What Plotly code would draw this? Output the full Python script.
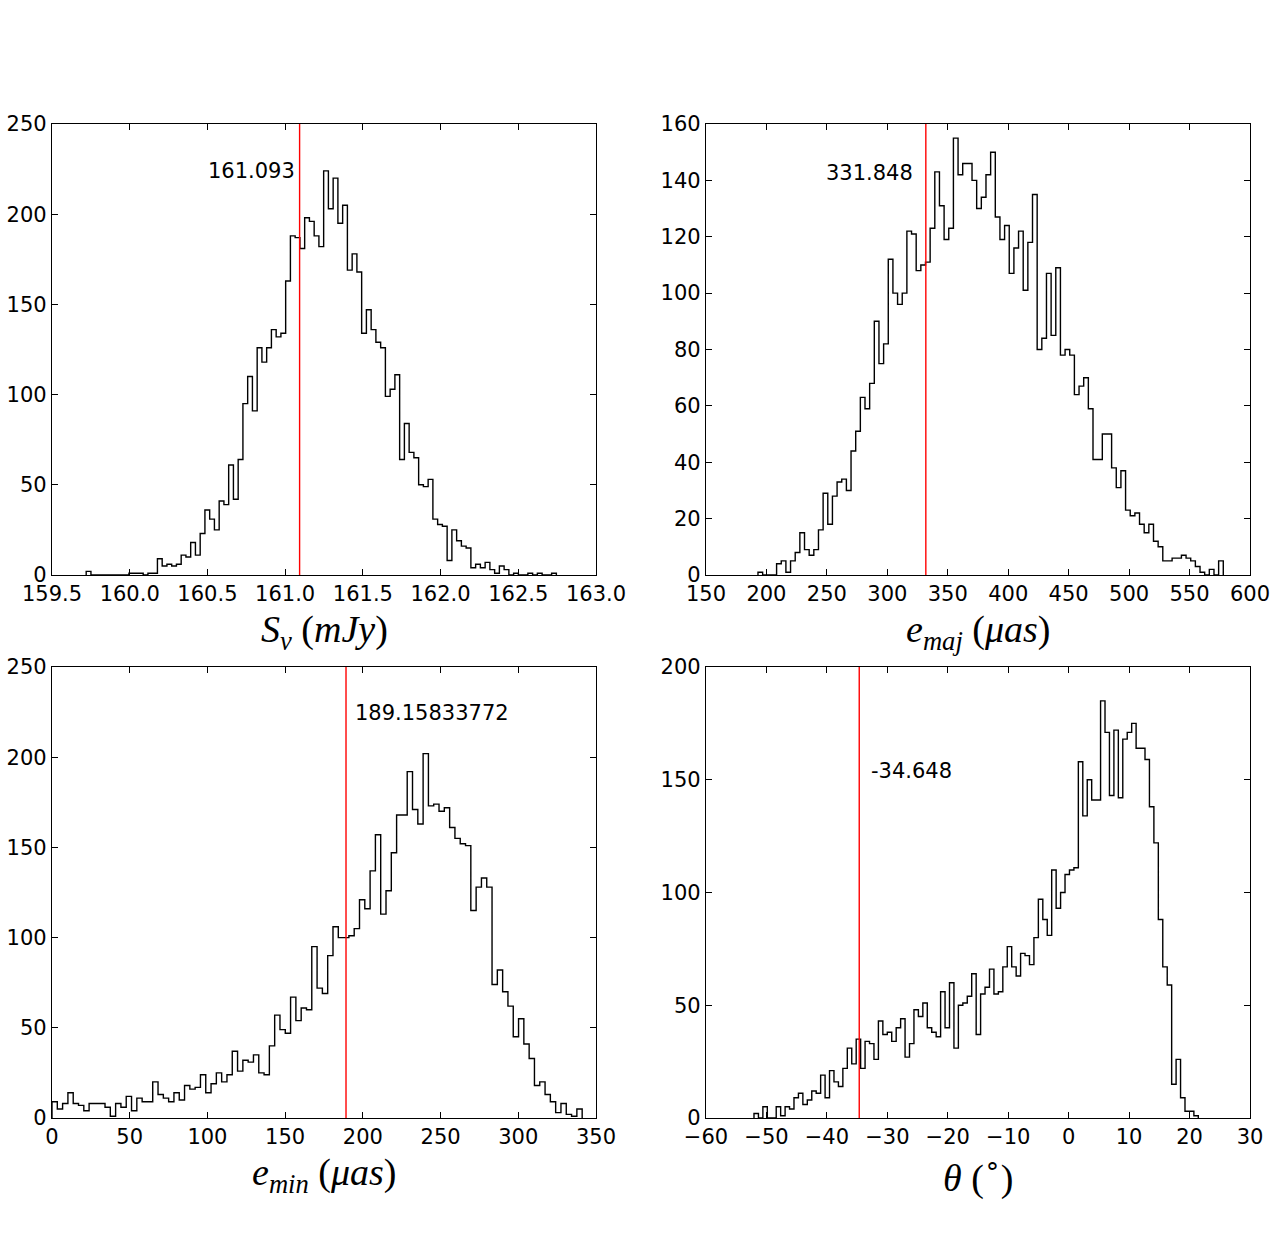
import numpy as np
import plotly.graph_objects as go

# histogram counts (step style)
flux_counts = [2, 0, 0, 0, 0, 0, 0, 0, 0, 1, 1, 1, 0, 1, 1, 9, 5, 6, 5, 6,
               11, 10, 18, 11, 23, 36, 31, 25, 41, 39, 61, 42, 64, 95, 110, 91, 126, 118, 126, 136,
               132, 134, 163, 188, 187, 181, 198, 196, 188, 182, 224, 203, 220, 195, 205, 169, 178, 168, 134, 147,
               136, 129, 126, 99, 103, 111, 64, 84, 68, 65, 50, 49, 53, 31, 28, 27, 8, 25, 19, 16,
               15, 4, 6, 4, 7, 3, 1, 5, 3, 0, 1, 0, 0, 1, 0, 1, 0, 0, 1]
flux_range = [159.72, 162.745]
flux_best = 161.093

emaj_counts = [1, 0, 0, 0, 4, 5, 1, 5, 8, 15, 9, 7, 9, 16, 29, 18, 28, 33, 34, 30,
               44, 51, 63, 59, 68, 90, 75, 82, 112, 100, 96, 100, 122, 121, 108, 110, 111, 123, 143, 131,
               119, 123, 155, 142, 146, 146, 140, 130, 134, 142, 150, 127, 119, 124, 107, 116, 122, 101, 118, 135,
               80, 84, 107, 85, 109, 78, 80, 78, 64, 67, 70, 59, 41, 41, 50, 50, 38, 31, 37, 23,
               21, 22, 18, 15, 18, 12, 10, 5, 5, 6, 6, 7, 6, 5, 3, 1, 0, 2, 0, 5]
emaj_range = [193.0, 577.9]
emaj_best = 331.848

emin_counts = [9, 5, 8, 14, 8, 7, 4, 8, 8, 8, 6, 1, 8, 6, 12, 4, 11, 9, 9, 20,
               13, 11, 9, 14, 10, 18, 16, 17, 24, 14, 19, 25, 20, 24, 37, 26, 32, 31, 35, 25,
               24, 40, 57, 49, 47, 67, 54, 61, 60, 95, 72, 69, 90, 106, 100, 100, 101, 105, 121, 116,
               137, 157, 113, 126, 147, 168, 168, 192, 171, 163, 202, 173, 174, 170, 172, 161, 155, 152, 151, 115,
               128, 133, 128, 74, 82, 70, 62, 45, 55, 41, 33, 18, 20, 13, 9, 3, 8, 2, 1, 5]
emin_range = [0.0, 341.1]
emin_best = 189.15833772

theta_counts = [2, 0, 5, 0, 0, 5, 1, 5, 4, 9, 11, 6, 8, 12, 11, 19, 9, 21, 16, 14,
                22, 31, 24, 35, 22, 34, 33, 26, 43, 37, 38, 34, 40, 44, 27, 33, 48, 45, 51, 40,
                38, 36, 56, 40, 60, 31, 50, 51, 54, 64, 37, 55, 58, 66, 55, 56, 67, 76, 67, 63,
                73, 72, 68, 80, 97, 88, 81, 110, 93, 100, 108, 110, 111, 158, 134, 150, 141, 141, 185, 171,
                143, 172, 142, 168, 171, 175, 164, 164, 159, 138, 122, 88, 67, 59, 15, 26, 9, 3, 3, 1]
theta_range = [-52.06, 21.45]
theta_best = -34.648

W, H = 1274, 1242

#panel settings: counts, range, best value, label, axis ranges, ticks
panels = [
    dict(counts=flux_counts, rng=flux_range, best=flux_best, best_txt="161.093",
         label="<i>S</i><sub><i>ν</i></sub> (<i>mJy</i>)",
         xr=[159.5, 163.0], dx=0.5, xfmt=".1f", yr=[0, 250], dy=50,
         txt_y=224, anchor="right", shift=-3),
    dict(counts=emaj_counts, rng=emaj_range, best=emaj_best, best_txt="331.848",
         label="<i>e</i><sub><i>maj</i></sub> (<i>μas</i>)",
         xr=[150, 600], dx=50, xfmt="d", yr=[0, 160], dy=20,
         txt_y=142.6, anchor="right", shift=-11),
    dict(counts=emin_counts, rng=emin_range, best=emin_best, best_txt="189.15833772",
         label="<i>e</i><sub><i>min</i></sub> (<i>μas</i>)",
         xr=[0, 350], dx=50, xfmt="d", yr=[0, 250], dy=50,
         txt_y=224.5, anchor="left", shift=7),
    dict(counts=theta_counts, rng=theta_range, best=theta_best, best_txt="-34.648",
         label="<i>θ</i> (<sup>∘</sup>)",
         xr=[-60, 30], dx=10, xfmt="d", yr=[0, 200], dy=50,
         txt_y=154, anchor="left", shift=10),
]

#pixel boxes of each plot area in the window (left, right, top, bottom)
boxes = [(52, 596, 124, 575), (706, 1250, 124, 575),
         (52, 596, 667, 1118), (706, 1250, 667, 1118)]

fig = go.Figure()
tick_font = dict(family="DejaVu Sans", size=21, color="black")

for i, (p, box) in enumerate(zip(panels, boxes)):
    n = i + 1
    xa = "x" if n == 1 else "x%d" % n
    ya = "y" if n == 1 else "y%d" % n
    l, r, t, b = box

    #step outline of the histogram
    edges = np.linspace(p["rng"][0], p["rng"][1], len(p["counts"]) + 1)
    xs = [edges[0]] + list(edges[:-1]) + [edges[-1]]
    ys = [0] + list(p["counts"]) + [0]
    fig.add_trace(go.Scatter(x=xs, y=ys, mode="lines", line=dict(color="black", width=1.4, shape="hv"),
                             xaxis=xa, yaxis=ya, showlegend=False, hoverinfo="skip"))

    #red line at best value
    fig.add_trace(go.Scatter(x=[p["best"], p["best"]], y=p["yr"], mode="lines",
                             line=dict(color="red", width=1.4), xaxis=xa, yaxis=ya,
                             showlegend=False, hoverinfo="skip"))

    fig.add_annotation(x=p["best"], y=p["txt_y"], xref=xa, yref=ya, text=p["best_txt"],
                       showarrow=False, xanchor=p["anchor"], yanchor="middle", xshift=p["shift"],
                       font=tick_font)

    axis_common = dict(showline=True, mirror="ticks", linecolor="black", linewidth=1.3,
                       ticks="inside", ticklen=6, tickwidth=1.2, tickcolor="black",
                       showgrid=False, zeroline=False, tickfont=tick_font, automargin=False)
    fig.layout["xaxis" if n == 1 else "xaxis%d" % n] = dict(
        domain=[l / W, r / W], anchor=ya, range=p["xr"], tick0=p["xr"][0], dtick=p["dx"],
        tickformat=p["xfmt"], **axis_common)
    fig.layout["yaxis" if n == 1 else "yaxis%d" % n] = dict(
        domain=[1 - b / H, 1 - t / H], anchor=xa, range=p["yr"], tick0=0, dtick=p["dy"],
        **axis_common)

    #axis label under each panel
    fig.add_annotation(x=(l + r) / 2 / W, y=1 - (b + 57) / H, xref="paper", yref="paper",
                       text=p["label"], showarrow=False, xanchor="center", yanchor="middle",
                       font=dict(family="Liberation Serif", size=38, color="black"))

fig.update_layout(width=W, height=H, margin=dict(l=0, r=0, t=0, b=0),
                  paper_bgcolor="white", plot_bgcolor="white")

#drop the default page margin so the figure fills the window exactly
fig.write_html("out.html", config={"displayModeBar": False},
               post_script="document.body.style.margin='0';document.body.style.overflow='hidden';")
